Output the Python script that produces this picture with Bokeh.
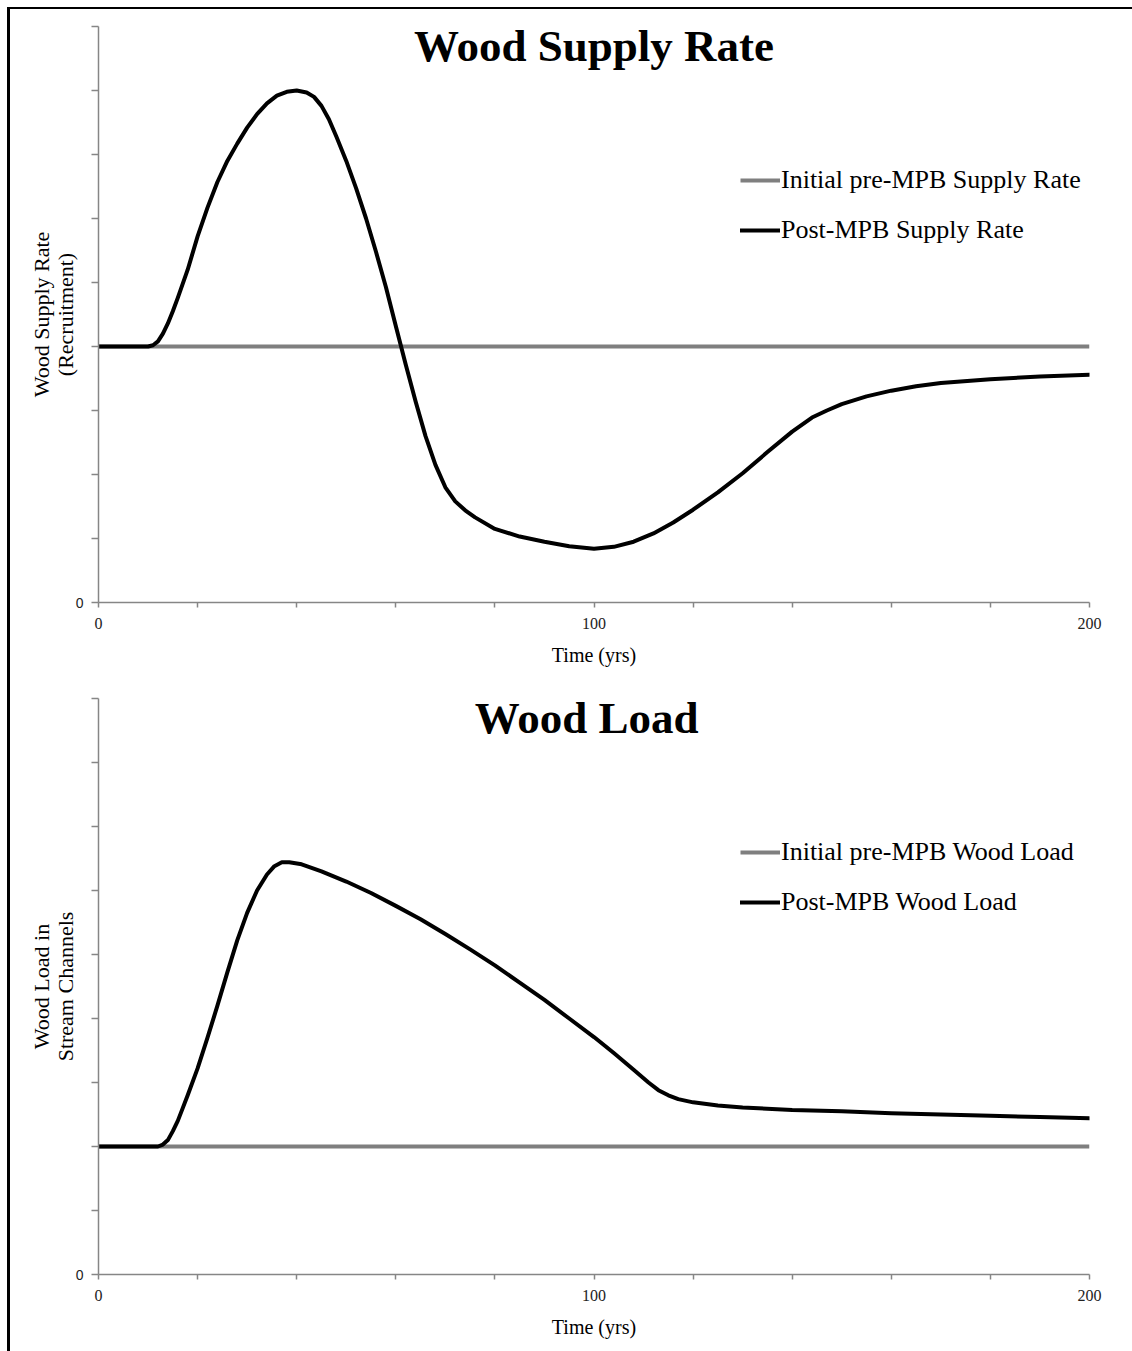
from bokeh.plotting import figure
from bokeh.models import Legend, LegendItem, Label, FixedTicker, Range1d
from bokeh.layouts import column
from bokeh.embed import file_html
from bokeh.resources import INLINE

# ---------------- data ----------------
time_span = [0, 200]

years_supply = [0, 10, 11, 12, 13, 14, 15, 16, 18, 20, 22, 24, 26, 28, 30, 32, 34, 36,
                38, 40, 42, 43.5, 45, 46.5, 48, 50, 52, 54, 56, 58, 60, 62, 64, 66,
                68, 70, 72, 74, 76, 80, 85, 90, 95, 100, 104, 108, 112, 116, 120,
                125, 130, 135, 140, 144, 147, 150, 155, 160, 165, 170, 180, 190, 200]
supply_post = [4.0, 4.0, 4.02, 4.08, 4.2, 4.36, 4.55, 4.76, 5.2, 5.72, 6.17, 6.57,
               6.9, 7.17, 7.42, 7.63, 7.8, 7.92, 7.98, 8.0, 7.97, 7.9, 7.76, 7.55,
               7.28, 6.9, 6.47, 6.0, 5.48, 4.93, 4.32, 3.72, 3.14, 2.6, 2.15, 1.8,
               1.58, 1.44, 1.33, 1.15, 1.03, 0.95, 0.88, 0.84, 0.87, 0.95, 1.08,
               1.25, 1.45, 1.72, 2.02, 2.35, 2.67, 2.89, 3.0, 3.1, 3.22, 3.31, 3.38,
               3.43, 3.49, 3.53, 3.56]
supply_initial = 4.0

years_load = [0, 12, 13, 14, 15, 16, 17, 18, 20, 22, 24, 26, 28, 30, 32, 34, 35.5,
              37, 38.5, 41, 45, 50, 55, 60, 65, 70, 75, 80, 85, 90, 95, 100, 104,
              108, 111, 113, 115, 117, 120, 125, 130, 140, 150, 160, 170, 180, 190, 200]
load_post = [2.0, 2.0, 2.03, 2.1, 2.24, 2.4, 2.6, 2.8, 3.22, 3.7, 4.2, 4.72, 5.22,
             5.65, 6.0, 6.25, 6.38, 6.44, 6.44, 6.41, 6.3, 6.14, 5.96, 5.76, 5.55,
             5.32, 5.08, 4.83, 4.56, 4.29, 4.0, 3.71, 3.46, 3.2, 3.0, 2.88, 2.8,
             2.74, 2.69, 2.64, 2.61, 2.57, 2.55, 2.52, 2.5, 2.48, 2.46, 2.44]
load_initial = 2.0

x_ticks = list(range(0, 201, 20))
x_tick_labels = ["0", "100", "200"]
y_ticks = list(range(0, 10))
y_tick_labels = ["0"]

SERIF = "Liberation Serif"
AXIS_GREY = "#868686"


def make_panel(title, title_x, letter, ylabel, x_post, y_post, init_val,
               init_label, post_label, top, bottom):
    p = figure(width=1122, height=671, x_range=Range1d(0, 200), y_range=Range1d(0, 9),
               output_backend="svg", toolbar_location=None,
               min_border_left=88, min_border_right=43,
               min_border_top=top, min_border_bottom=bottom)
    p.outline_line_color = None
    p.xgrid.visible = False
    p.ygrid.visible = False
    p.background_fill_color = "white"
    p.border_fill_color = "white"

    r_init = p.line(time_span, [init_val, init_val], line_color="#7f7f7f", line_width=4)
    r_post = p.line(x_post, y_post, line_color="black", line_width=4,
                    line_join="round", line_cap="round")

    # axes
    xa = p.xaxis[0]
    xa.ticker = FixedTicker(ticks=x_ticks)
    xa.major_label_overrides = {t: (str(t) if str(t) in x_tick_labels else "") for t in x_ticks}
    xa.minor_tick_line_color = None
    xa.major_tick_in = 0
    xa.major_tick_out = 5
    xa.axis_line_color = AXIS_GREY
    xa.axis_line_width = 1.5
    xa.major_tick_line_color = AXIS_GREY
    xa.major_tick_line_width = 1.5
    xa.major_label_text_font = SERIF
    xa.major_label_text_font_size = "16px"
    xa.major_label_text_color = "#222222"
    xa.major_label_standoff = 10
    xa.axis_label = "Time (yrs)"
    xa.axis_label_text_font = SERIF
    xa.axis_label_text_font_size = "20px"
    xa.axis_label_text_font_style = "normal"
    xa.axis_label_text_color = "black"
    xa.axis_label_standoff = 12

    ya = p.yaxis[0]
    ya.ticker = FixedTicker(ticks=y_ticks)
    ya.major_label_overrides = {t: (str(t) if str(t) in y_tick_labels else "") for t in y_ticks}
    ya.minor_tick_line_color = None
    ya.major_tick_in = 0
    ya.major_tick_out = 7
    ya.axis_line_color = AXIS_GREY
    ya.axis_line_width = 1.5
    ya.major_tick_line_color = AXIS_GREY
    ya.major_tick_line_width = 1.5
    ya.major_label_text_font = "Liberation Sans"
    ya.major_label_text_font_size = "14px"
    ya.major_label_text_color = "#222222"
    ya.major_label_standoff = 8
    ya.axis_label = ylabel
    ya.axis_label_text_font = SERIF
    ya.axis_label_text_font_size = "22px"
    ya.axis_label_text_line_height = 0.95
    ya.axis_label_text_font_style = "normal"
    ya.axis_label_text_color = "black"
    ya.axis_label_standoff = -5

    # title inside the plot area and panel letter
    p.add_layout(Label(x=title_x, y=8.69, text=title, text_align="center",
                       text_baseline="middle", text_font=SERIF,
                       text_font_style="bold", text_font_size="45px",
                       text_color="black"))
    p.add_layout(Label(x=-8.0, y=8.62, text=letter, text_align="center",
                       text_baseline="middle", text_font=SERIF,
                       text_font_style="bold", text_font_size="46px",
                       text_color="black"))

    legend = Legend(items=[LegendItem(label=init_label, renderers=[r_init]),
                           LegendItem(label=post_label, renderers=[r_post])],
                    location=(642, 357), orientation="vertical",
                    glyph_width=40, glyph_height=30, label_height=30,
                    label_standoff=1, spacing=20, padding=0, margin=0,
                    border_line_color=None, background_fill_alpha=0,
                    label_text_font=SERIF, label_text_font_size="26px",
                    label_text_color="black")
    p.add_layout(legend)
    return p


p1 = make_panel("Wood Supply Rate", 100, "A)", "Wood Supply Rate\n(Recruitment)",
                years_supply, supply_post, supply_initial,
                "Initial pre-MPB Supply Rate", "Post-MPB Supply Rate", 17, 78)
p2 = make_panel("Wood Load", 98.5, "B)", "Wood Load in\nStream Channels",
                years_load, load_post, load_initial,
                "Initial pre-MPB Wood Load", "Post-MPB Wood Load", 18, 77)

layout = column(p1, p2, spacing=0, margin=(7, 0, 0, 7),
                styles={"border-left": "3px solid black", "border-top": "2px solid black"})

open("out.html", "w").write(file_html(layout, INLINE))
